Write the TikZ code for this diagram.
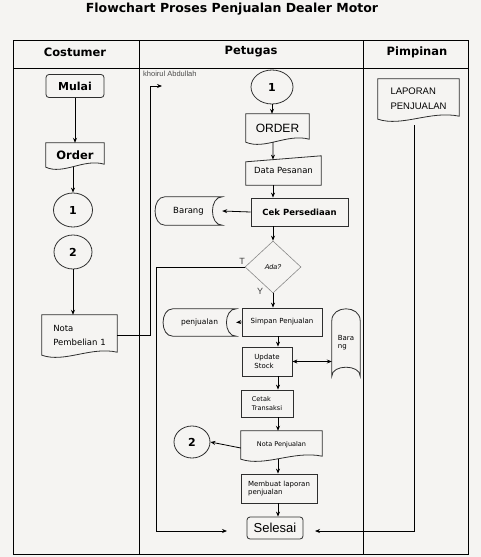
\documentclass[tikz,border=0pt]{standalone}
\usepackage{fontspec}
\setmainfont{DejaVu Sans}
\newfontfamily\tahoma{Liberation Sans}
\usetikzlibrary{positioning,arrows.meta,shapes.geometric,calc}
\definecolor{PaperGray}{HTML}{F5F4F2}
\definecolor{EdgeGray}{HTML}{2E2E2E}
\definecolor{DiaGray}{HTML}{8A8A8A}

\begin{document}
\begin{tikzpicture}[
  x=1pt, y=-1pt,
  >={Stealth[length=5pt, width=4pt]},
  wh/.style 2 args={minimum width=#1pt, minimum height=#2pt},
  proc/.style={
    draw=EdgeGray, line width=0.8pt, inner sep=1pt, align=left,
    font=\fontsize{7}{8.5}\selectfont
  },
  term/.style={proc, rounded corners=3pt, align=center},
  shell/.style={inner sep=1pt, align=left, font=\fontsize{7}{8.5}\selectfont},
  conn/.style={
    draw=EdgeGray, line width=0.8pt, ellipse, inner sep=0pt,
    font=\bfseries\fontsize{11}{12}\selectfont
  },
  shapeline/.style={draw=EdgeGray, line width=0.8pt},
  flow/.style={->, line width=0.8pt},
  lanehead/.style={font=\bfseries\fontsize{11.5}{13}\selectfont},
]

% ---------- Outline macros ----------
% document: wavy bottom edge
\newcommand{\docframe}[1]{%
  \draw[shapeline] (#1.south west) -- (#1.north west) -- (#1.north east)
    -- ([yshift=3pt]#1.south east)
    .. controls ($(#1.south west)!0.65!(#1.south east)+(0,-9)$) and ($(#1.south west)!0.3!(#1.south east)+(0,8)$) .. (#1.south west) -- cycle;
}
% stored data, lying
\newcommand{\storeframe}[1]{%
  \draw[shapeline] ([xshift=10pt]#1.north west) -- (#1.north east)
    .. controls ([xshift=-13pt]#1.north east) and ([xshift=-13pt]#1.south east) .. (#1.south east)
    -- ([xshift=10pt]#1.south west)
    .. controls ([xshift=-3pt]#1.south west) and ([xshift=-3pt]#1.north west) .. ([xshift=10pt]#1.north west) -- cycle;
}
% stored data, standing
\newcommand{\drumframe}[1]{%
  \draw[shapeline] ([yshift=-12pt]#1.north west)
    .. controls ([yshift=4pt]#1.north west) and ([yshift=4pt]#1.north east) .. ([yshift=-12pt]#1.north east)
    -- (#1.south east)
    .. controls ([yshift=12pt]#1.south east) and ([yshift=12pt]#1.south west) .. (#1.south west) -- cycle;
}
% manual input: slanted top
\newcommand{\inframe}[1]{%
  \draw[shapeline] (#1.south west) -- ([yshift=-6pt]#1.north west) -- (#1.north east) -- (#1.south east) -- cycle;
}

% ---------- Page ----------
\fill[PaperGray] (0,0) rectangle (481,557);
\useasboundingbox (0,0) rectangle (481,557);

\node[font=\bfseries\fontsize{12.5}{14}\selectfont] (title) at (232,9) {Flowchart Proses Penjualan Dealer Motor};

% ---------- Lanes ----------
\draw[line width=1pt] (13,40) rectangle (468,554);
\draw[line width=1pt] (13,68) -- (468,68);
\draw[line width=1pt] (139,40) -- (139,554);
\draw[line width=1pt] (363,40) -- (363,554);

\node[lanehead] (hcost) at (75,52) {Costumer};
\node[lanehead] (hpet)  at (251,52) {Petugas};
\node[lanehead] (hpim)  at (417,52) {Pimpinan};

% ---------- Costumer ----------
\node[term, wh={58}{23}, font=\bfseries\fontsize{11}{13}\selectfont] (mulai) at (75,86) {Mulai};
\node[shell, wh={58}{24}, font=\bfseries\fontsize{11.5}{13}\selectfont] (order) at (75,155) {Order};
\node[conn, wh={39}{34}] (c1) at (73,210) {1};
\node[conn, wh={38}{34}] (c2) at (73,252) {2};
\node[shell, wh={75}{40}, font=\fontsize{8.5}{14}\selectfont] (nota1) at (79.5,335) {Nota\\Pembelian 1};
\docframe{order}
\docframe{nota1}

\draw[flow] (mulai.south) -- (mulai.south |- order.north);
\draw[flow] (order.south -| c1.north) -- (c1.north);
\draw[flow] (c2.south) -- (c2.south |- nota1.north);

\coordinate (khend) at (162,86);
\draw[flow] (nota1.east) -| ([xshift=-12pt]khend) -- (khend);
\node[font=\tahoma\fontsize{7.5}{8}\selectfont, text=black!70, anchor=west, inner sep=0pt] (credit) at (143,74) {khoirul Abdullah};

% ---------- Petugas ----------
\coordinate (spineA) at (273,0);
\coordinate (spineB) at (278,0);

\node[conn, wh={42}{34}] (p1) at (272,87) {1};
\node[shell, wh={63}{28}, font=\tahoma\fontsize{12}{13}\selectfont] (order2) at (277.5,128) {ORDER};
\node[shell, wh={75}{29}, font=\fontsize{8.5}{10}\selectfont] (datap) at (283.5,170.5) {Data Pesanan};
\node[proc, wh={97}{28}, font=\bfseries\fontsize{8.5}{10}\selectfont] (cek) at (299.5,212) {Cek Persediaan};
\node[shell, wh={67}{28}, font=\fontsize{8.5}{10}\selectfont] (barang1) at (188.5,211) {Barang};
\node[diamond, draw=DiaGray, line width=0.6pt, wh={56}{52}, inner sep=0pt,
      font=\tahoma\itshape\fontsize{7}{8}\selectfont] (ada) at (273,267) {Ada?};
\node[font=\tahoma\fontsize{9}{10}\selectfont, text=black!75] (tlab) at (242,261) {T};
\node[font=\tahoma\fontsize{9}{10}\selectfont, text=black!75] (ylab) at (260,291) {Y};

\node[proc, wh={80}{28}] (simpan) at (282,322) {Simpan Penjualan};
\node[shell, wh={73}{27}, font=\fontsize{7.5}{9}\selectfont] (penj) at (199.5,322.5) {penjualan};
\node[proc, wh={50}{29}] (update) at (267,361.5) {Update\\Stock};
\node[shell, wh={28}{67}] (barang2) at (346,342.5) {Bara\\ng};
\node[proc, wh={52}{27}, font=\fontsize{6.5}{8.5}\selectfont] (cetak) at (267,403.5) {Cetak\\Transaksi};
\node[shell, wh={81}{28}, font=\fontsize{6.5}{8}\selectfont] (notap) at (281.5,445) {Nota Penjualan};
\node[conn, wh={36}{32}] (c2b) at (192,442) {2};
\node[proc, wh={76}{29}] (membuat) at (279,488.5) {Membuat laporan\\penjualan};
\node[term, wh={56}{22}, font=\tahoma\fontsize{13}{14}\selectfont] (selesai) at (275,528) {Selesai};

\docframe{order2}
\inframe{datap}
\storeframe{barang1}
\storeframe{penj}
\drumframe{barang2}
\docframe{notap}

\coordinate (datain) at ($(datap.north west)!0.36!(datap.north east)+(0,3.8)$);
\draw[flow] (p1.south) -- (p1.south |- order2.north);
\draw[flow] (order2.south -| spineA) -- (datain);
\draw[flow] (datap.south -| spineA) -- (cek.north -| spineA);
\draw[flow] (cek.west) -- (barang1.east);
\draw[flow] (cek.south -| spineA) -- (ada.north);
\draw[flow] (ada.south) -- (ada.south |- simpan.north);
\draw[flow] (simpan.west) -- (penj.east);
\draw[flow] (simpan.south -| spineB) -- (update.north -| spineB);
\draw[<->, line width=0.8pt] (update.east) -- (update.east -| barang2.west);
\draw[flow] (update.south -| spineB) -- (cetak.north -| spineB);
\draw[flow] (cetak.south -| spineB) -- (notap.north -| spineB);
\draw[flow] ([yshift=-3pt]notap.west) -- (c2b.east);
\draw[flow] (notap.south -| spineB) -- (membuat.north -| spineB);
\draw[flow] (membuat.south -| spineB) -- (selesai.north -| spineB);

% T branch back to the end
\coordinate (tcorner) at (156,531);
\coordinate (tin) at (227,531);
\draw[flow] (ada.west) -| (tcorner) -- (tin);

% ---------- Pimpinan ----------
\node[shell, wh={81}{40}, font=\tahoma\fontsize{9.5}{15}\selectfont] (lapor) at (418.5,99) {LAPORAN\\PENJUALAN};
\docframe{lapor}

\coordinate (rin) at (315,531);
\draw[flow] ([xshift=-4pt, yshift=-6pt]lapor.south) |- (rin);

\end{tikzpicture}
\end{document}
